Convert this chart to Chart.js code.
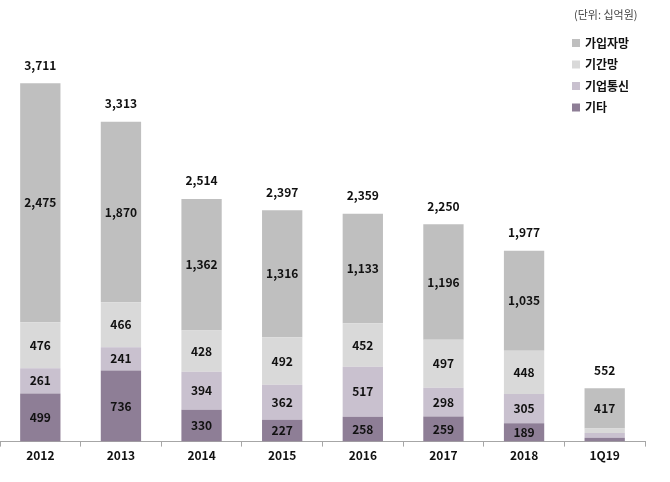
<!DOCTYPE html>
<html>
<head>
<meta charset="utf-8">
<script src="https://cdn.jsdelivr.net/npm/chart.js@4"></script>
<style>
html,body{margin:0;padding:0;background:#fff;}
#wrap{width:670px;height:482px;position:relative;}
</style>
</head>
<body>
<div id="wrap"><canvas id="c" width="670" height="482"></canvas></div>
<script>
const categories = ['2012','2013','2014','2015','2016','2017','2018','1Q19'];
const etc = [499, 736, 330, 227, 258, 259, 189, 40];          // 기타
const enterprise = [261, 241, 394, 362, 517, 298, 305, 50];   // 기업통신
const backbone = [476, 466, 428, 492, 452, 497, 448, 45];     // 기간망
const access = [2475, 1870, 1362, 1316, 1133, 1196, 1035, 417]; // 가입자망
const totals = [3711, 3313, 2514, 2397, 2359, 2250, 1977, 552];
const seriesNames = ['기타', '기업통신', '기간망', '가입자망'];
const unitText = '(단위: 십억원)';

const FONT = "'Noto Sans CJK KR', 'Noto Sans', sans-serif";
const fmt = v => v.toLocaleString('en-US');

const labelPlugin = {
  id: 'labels',
  afterDatasetsDraw(chart) {
    const ctx = chart.ctx;
    ctx.save();
    ctx.font = "bold 12px " + FONT;
    ctx.fillStyle = '#111';
    ctx.textAlign = 'center';
    ctx.textBaseline = 'middle';
    chart.data.datasets.forEach((ds, di) => {
      const meta = chart.getDatasetMeta(di);
      meta.data.forEach((bar, i) => {
        const h = Math.abs(bar.base - bar.y);
        if (h < 16) return;
        ctx.fillText(fmt(ds.data[i]), bar.x, (bar.y + bar.base) / 2);
      });
    });
    const top = chart.getDatasetMeta(chart.data.datasets.length - 1);
    top.data.forEach((bar, i) => {
      const y = chart.scales.y.getPixelForValue(totals[i]);
      ctx.fillText(fmt(totals[i]), bar.x, y - 18);
    });
    // custom legend (top-right)
    ctx.textAlign = 'left';
    ctx.font = "11px " + FONT;
    ctx.fillStyle = '#444';
    ctx.fillText(unitText, 574, 15);
    ctx.font = "bold 12px " + FONT;
    const order = [...chart.data.datasets.keys()].reverse();
    order.forEach((di, k) => {
      const ds = chart.data.datasets[di];
      const y = 43 + k * 21.5;
      ctx.fillStyle = ds.backgroundColor;
      ctx.fillRect(572, y - 4, 8, 8);
      ctx.fillStyle = '#111';
      ctx.fillText(ds.label, 585, y);
    });
    ctx.restore();
  }
};

new Chart(document.getElementById('c'), {
  type: 'bar',
  data: {
    labels: categories,
    datasets: [
      { label: seriesNames[0], data: etc, backgroundColor: '#8e7e96' },
      { label: seriesNames[1], data: enterprise, backgroundColor: '#c9c1cf' },
      { label: seriesNames[2], data: backbone, backgroundColor: '#d9d9d9' },
      { label: seriesNames[3], data: access, backgroundColor: '#bfbfbf' }
    ]
  },
  options: {
    responsive: false,
    animation: false,
    layout: { padding: { left: 0, right: 25, top: 0, bottom: 17 } },
    datasets: { bar: { categoryPercentage: 1.0, barPercentage: 0.5, borderWidth: 0 } },
    plugins: { legend: { display: false }, tooltip: { enabled: false } },
    scales: {
      x: {
        stacked: true,
        grid: { display: true, offset: true, drawOnChartArea: false, drawTicks: true, tickLength: 5, color: '#a6a6a6' },
        border: { display: true, color: '#a6a6a6' },
        ticks: { color: '#111', font: { family: FONT, size: 12, weight: 'bold' }, padding: 2 }
      },
      y: {
        stacked: true,
        display: false,
        min: 0,
        max: 4574
      }
    }
  },
  plugins: [labelPlugin]
});
</script>
</body>
</html>
